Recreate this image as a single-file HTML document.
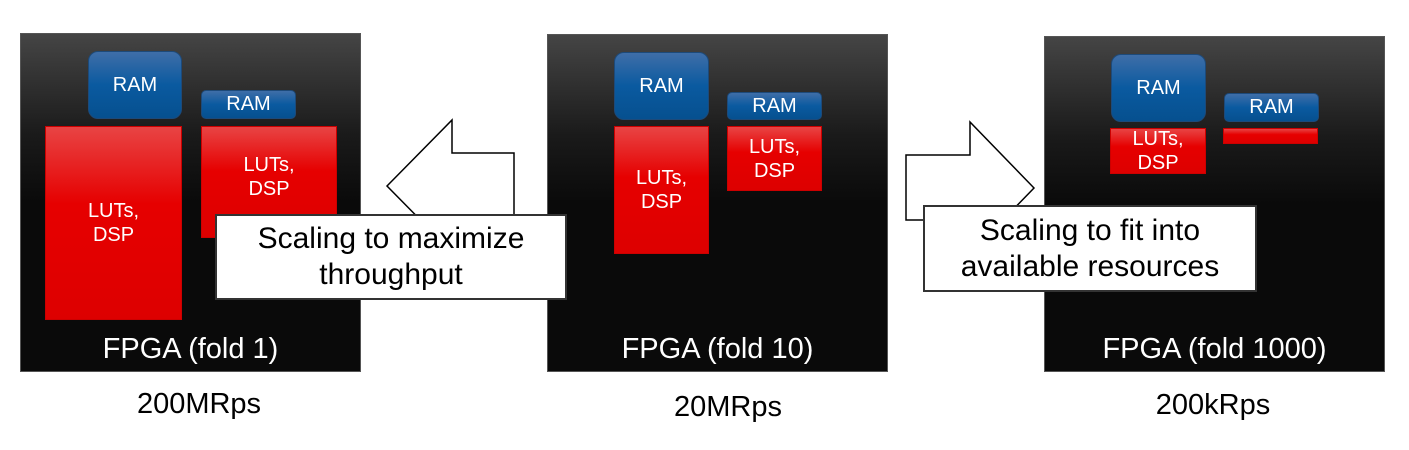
<!DOCTYPE html>
<html><head><style>
body{margin:0;width:1409px;height:450px;background:#fff;position:relative;overflow:hidden;font-family:"Liberation Sans",sans-serif}
.p{position:absolute;background:linear-gradient(#454545 0%,#1a1a1a 30%,#0a0a0a 50%,#0a0a0a 100%);border:1px solid #555;box-sizing:border-box}
.ram{position:absolute;border-radius:10px;background:linear-gradient(#3f6ea8,#0a5aa0 50%,#06508f);color:#fff;font-size:20px;display:flex;align-items:center;justify-content:center;box-sizing:border-box;border:1px solid #1d4a7a}
.ram.s{border-radius:5px}
.lut{position:absolute;background:linear-gradient(#e84444,#e60000 40%,#dd0000);color:#fff;font-size:20px;display:flex;align-items:center;justify-content:center;text-align:center;line-height:24px;border:1px solid #c00;box-sizing:border-box}
.lbl{position:absolute;color:#fff;font-size:29px;text-align:center}
.cap{position:absolute;font-size:29px;color:#000;text-align:center;width:200px}
.box{position:absolute;background:#fff;border:2px solid #333;box-sizing:border-box;font-size:30px;text-align:center;display:flex;align-items:center;justify-content:center;line-height:36px}
</style></head><body>
<div class="p" style="left:20px;top:33px;width:341px;height:339px"></div>
<div class="ram" style="left:88px;top:51px;width:94px;height:68px">RAM</div>
<div class="ram s" style="left:201px;top:90px;width:95px;height:29px">RAM</div>
<div class="lut" style="left:45px;top:126px;width:137px;height:194px">LUTs,<br>DSP</div>
<div class="lut" style="left:201px;top:126px;width:136px;height:112px;padding-bottom:10px">LUTs,<br>DSP</div>
<div class="lbl" style="left:20px;top:333px;width:341px">FPGA (fold 1)</div>
<div class="cap" style="left:99px;top:388px">200MRps</div>

<div class="p" style="left:547px;top:34px;width:341px;height:338px"></div>
<div class="ram" style="left:614px;top:52px;width:95px;height:68px">RAM</div>
<div class="ram s" style="left:727px;top:92px;width:95px;height:28px">RAM</div>
<div class="lut" style="left:614px;top:126px;width:95px;height:128px">LUTs,<br>DSP</div>
<div class="lut" style="left:727px;top:126px;width:95px;height:65px">LUTs,<br>DSP</div>
<div class="lbl" style="left:547px;top:333px;width:341px">FPGA (fold 10)</div>
<div class="cap" style="left:628px;top:391px">20MRps</div>

<div class="p" style="left:1044px;top:36px;width:341px;height:336px"></div>
<div class="ram" style="left:1111px;top:54px;width:95px;height:68px">RAM</div>
<div class="ram s" style="left:1224px;top:93px;width:95px;height:29px">RAM</div>
<div class="lut" style="left:1110px;top:128px;width:96px;height:46px">LUTs,<br>DSP</div>
<div class="lut" style="left:1223px;top:128px;width:95px;height:16px"></div>
<div class="lbl" style="left:1044px;top:333px;width:341px">FPGA (fold 1000)</div>
<div class="cap" style="left:1113px;top:389px">200kRps</div>

<svg style="position:absolute;left:0;top:0" width="1409" height="450">
<polygon points="387,186 452,120 452,153 514,153 514,260 452,260 452,252" fill="#fff" stroke="#000" stroke-width="1.5"/>
<polygon points="1034,188 970,122 970,155 906,155 906,220 970,220 970,254" fill="#fff" stroke="#000" stroke-width="1.5"/>
</svg>
<div class="box" style="left:215px;top:214px;width:352px;height:86px">Scaling to maximize<br>throughput</div>
<div class="box" style="left:923px;top:205px;width:334px;height:87px">Scaling to fit into<br>available resources</div>
</body></html>
